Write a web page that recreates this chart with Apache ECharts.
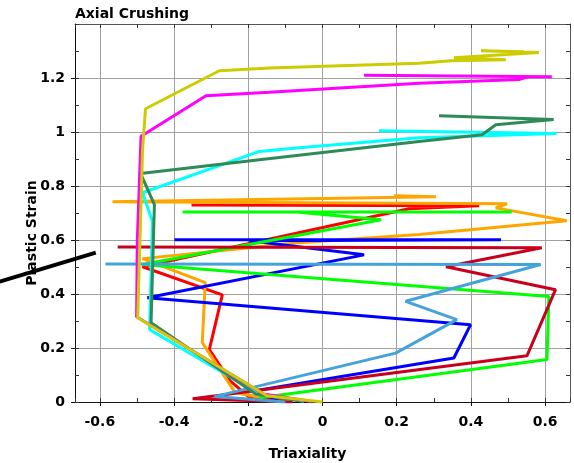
<!DOCTYPE html>
<html>
<head>
<meta charset="utf-8">
<script src="https://cdn.jsdelivr.net/npm/echarts@6/dist/echarts.min.js"></script>
<style>
  html, body { margin: 0; padding: 0; background: #fff; }
  #main { width: 574px; height: 463px; }
</style>
</head>
<body>
<div id="main"></div>
<script>
// [triaxiality, plastic strain] pairs, one path per test
var pathRed = [[-0.1, 0.005], [-0.2, 0.02], [-0.25, 0.08], [-0.305, 0.194], [-0.27, 0.397], [-0.485, 0.501], [0.233, 0.716], [0.422, 0.727], [-0.353, 0.73]];
var pathOrange = [[-0.16, 0.016], [-0.235, 0.034], [-0.324, 0.22], [-0.316, 0.442], [-0.466, 0.521], [-0.485, 0.531], [-0.063, 0.59], [0.26, 0.62], [0.658, 0.671], [0.467, 0.719], [0.497, 0.734], [-0.566, 0.742], [0.306, 0.76], [0.193, 0.764]];
var pathBlue = [[-0.12, 0.01], [-0.19, 0.04], [0.354, 0.163], [0.399, 0.286], [-0.472, 0.386], [0.112, 0.545], [-0.197, 0.597], [0.481, 0.601], [-0.399, 0.601]];
var pathGreen = [[-0.17, 0.016], [0.605, 0.157], [0.61, 0.391], [-0.485, 0.509], [0.158, 0.675], [-0.071, 0.704], [0.51, 0.704], [-0.377, 0.704]];
var pathDarkRed = [[-0.08, 0.0], [-0.35, 0.012], [0.551, 0.171], [0.628, 0.416], [0.333, 0.501], [0.591, 0.571], [-0.552, 0.574]];
var pathLightBlue = [[-0.1, 0.0], [-0.291, 0.02], [0.197, 0.181], [0.362, 0.305], [0.224, 0.373], [0.588, 0.509], [-0.585, 0.511]];
var pathCyan = [[-0.05, 0.003], [-0.17, 0.03], [-0.466, 0.268], [-0.458, 0.668], [-0.485, 0.775], [-0.17, 0.928], [-0.063, 0.942], [0.26, 0.979], [0.631, 0.994], [0.152, 1.005]];
var pathSeaGreen = [[-0.06, 0.004], [-0.18, 0.03], [-0.462, 0.294], [-0.453, 0.731], [-0.49, 0.846], [-0.17, 0.897], [0.26, 0.965], [0.43, 0.99], [0.467, 1.027], [0.623, 1.046], [0.314, 1.06]];
var pathMagenta = [[-0.03, 0.002], [-0.16, 0.03], [-0.501, 0.316], [-0.499, 0.601], [-0.489, 0.984], [-0.314, 1.134], [-0.143, 1.147], [0.26, 1.181], [0.529, 1.194], [0.556, 1.205], [0.618, 1.205], [0.112, 1.21]];
var pathYellow = [[0, 0], [-0.15, 0.023], [-0.498, 0.312], [-0.485, 0.934], [-0.477, 1.086], [-0.278, 1.227], [-0.143, 1.237], [0.26, 1.255], [0.347, 1.264], [0.494, 1.268], [0.354, 1.275], [0.583, 1.294], [0.427, 1.301], [0.543, 1.297]];
// stray stroke left of the plot
var pathStray = [[-0.87, 0.446], [-0.611, 0.553]];

var xTicks = { min: -0.667, max: 0.667, splitNumber: 7 };
var yTicks = { min: 0, max: 1.4, interval: 0.2 };

var paths = [
  ['red', pathRed, '#ff0000'],
  ['orange', pathOrange, '#ffa500'],
  ['blue', pathBlue, '#0000ff'],
  ['green', pathGreen, '#00ff00'],
  ['darkred', pathDarkRed, '#c8001e'],
  ['lightblue', pathLightBlue, '#45a3dc'],
  ['cyan', pathCyan, '#00ffff'],
  ['seagreen', pathSeaGreen, '#2e8b57'],
  ['magenta', pathMagenta, '#ff00ff'],
  ['yellow', pathYellow, '#cccc00']
];

var font = 'DejaVu Sans';
var boldText = { fontFamily: font, fontWeight: 'bold', fontSize: 14, color: '#000' };

var series = paths.map(function (p) {
  return {
    name: p[0],
    type: 'line',
    data: p[1],
    showSymbol: false,
    symbol: 'none',
    lineStyle: { color: p[2], width: 3 },
    animation: false
  };
});

function extraAxis(base, pos, showLine) {
  return Object.assign({}, base, {
    type: 'value',
    position: pos,
    axisLine: { show: showLine, onZero: false, lineStyle: { color: '#555', width: 1 } },
    axisTick: { show: true, inside: true, length: 4, lineStyle: { color: '#333' } },
    minorTick: { show: true, splitNumber: 2, length: 4, lineStyle: { color: '#333' } },
    axisLabel: { show: false },
    splitLine: { show: false }
  });
}

var myChart = echarts.init(document.getElementById('main'));
var option = {
  animation: false,
  title: {
    text: 'Axial Crushing',
    left: 75,
    top: 7,
    padding: 0,
    textStyle: boldText
  },
  grid: { left: 75, right: 4, top: 24, bottom: 61, containLabel: false, outerBoundsMode: 'none' },
  xAxis: [
    Object.assign({}, xTicks, {
      type: 'value',
      position: 'bottom',
      name: 'Triaxiality',
      nameLocation: 'middle',
      nameGap: 45,
      nameMoveOverlap: false,
      nameTextStyle: Object.assign({ padding: [0, 30, 0, 0] }, boldText),
      axisLine: { show: true, onZero: false, lineStyle: { color: '#111', width: 1 } },
      axisTick: { show: true, inside: false, length: 4, lineStyle: { color: '#111' } },
      axisLabel: Object.assign({ margin: 13, showMinLabel: false, showMaxLabel: false }, boldText),
      splitLine: { show: true, lineStyle: { color: '#a0a0a0', width: 1 } }
    }),
    extraAxis(xTicks, 'bottom', false),
    extraAxis(xTicks, 'top', true)
  ],
  yAxis: [
    Object.assign({}, yTicks, {
      type: 'value',
      position: 'left',
      name: 'Plastic Strain',
      nameLocation: 'middle',
      nameGap: 36,
      nameMoveOverlap: false,
      nameTextStyle: Object.assign({ padding: [0, 40, 0, 0] }, boldText),
      axisLine: { show: true, onZero: false, lineStyle: { color: '#111', width: 1 } },
      axisTick: { show: true, inside: false, length: 4, lineStyle: { color: '#111' } },
      axisLabel: Object.assign({ margin: 10, showMaxLabel: false }, boldText),
      splitLine: { show: true, lineStyle: { color: '#a0a0a0', width: 1 } }
    }),
    extraAxis(yTicks, 'left', false),
    extraAxis(yTicks, 'right', true)
  ],
  series: series
};
myChart.setOption(option);

// the stray stroke sits outside the grid, so place it through the axis scales
var strayPoints = pathStray.map(function (p) {
  return myChart.convertToPixel({ xAxisIndex: 0, yAxisIndex: 0 }, p);
});
myChart.setOption({
  graphic: [{
    type: 'polyline',
    shape: { points: strayPoints },
    style: { stroke: '#000', lineWidth: 4, fill: null },
    z: 100
  }]
});
</script>
</body>
</html>
